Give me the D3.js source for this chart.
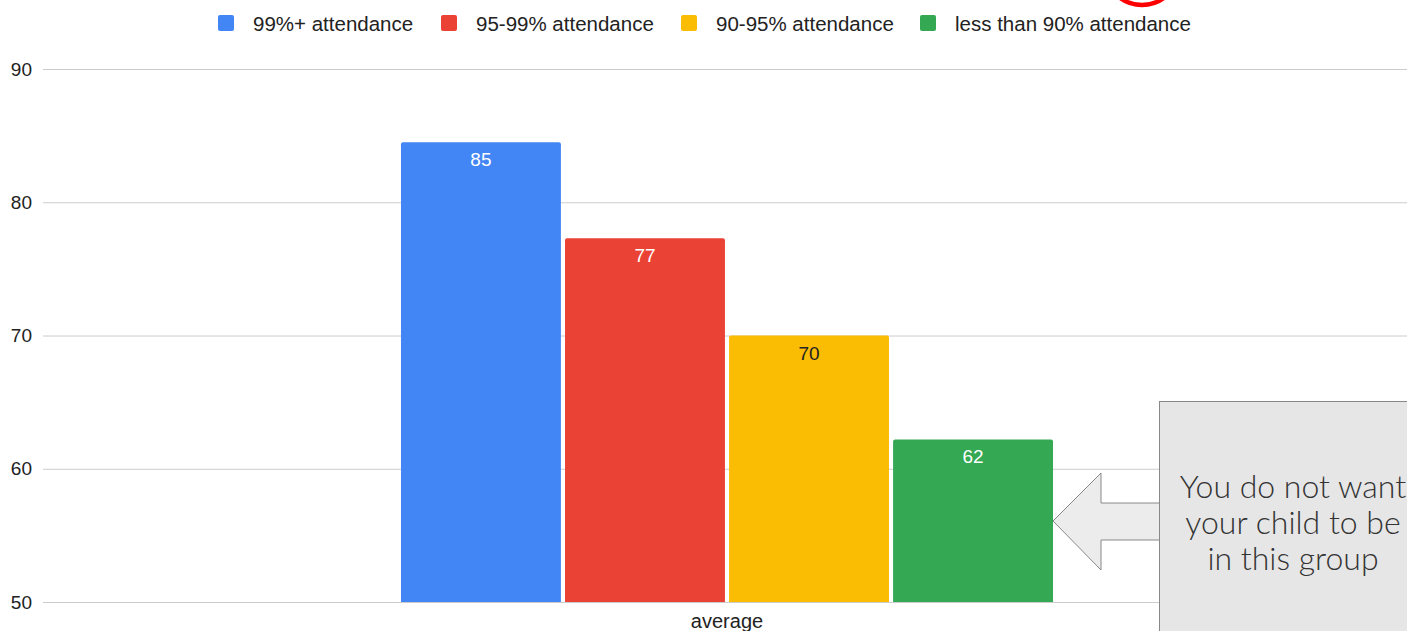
<!DOCTYPE html>
<html>
<head>
<meta charset="utf-8">
<script src="https://cdn.jsdelivr.net/npm/d3@7"></script>
<style>
  body { margin: 0; background: #fff; overflow: hidden; }
  svg { display: block; font-family: "Liberation Sans", Arial, sans-serif; }
</style>
</head>
<body>
<svg id="chart" width="1407" height="631"></svg>
<script>
// data
const categories = ["average"];
const seriesNames = ["99%+ attendance", "95-99% attendance", "90-95% attendance", "less than 90% attendance"];
const seriesValues = [84.5, 77.3, 70.0, 62.2];
const seriesColors = ["#4285f4", "#ea4335", "#fbbc04", "#34a853"];
const labelColors = ["#fff", "#fff", "#222", "#fff"];
const yTicks = [50, 60, 70, 80, 90];
const calloutLines = ["You do not want", "your child to be", "in this group"];

const svg = d3.select('#chart');
const margin = {left: 43, right: -4, top: 69, bottom: 29};
const width = 1407, height = 631;

let yScale = d3.scaleLinear()
  .domain([50, 90])
  .range([height - margin.bottom, margin.top]);

let xScale = d3.scaleBand()
  .domain(categories)
  .range([margin.left, width - margin.right])
  .paddingOuter(0.549);

let inner = d3.scaleBand()
  .domain(seriesNames)
  .range([0, xScale.bandwidth()])
  .paddingInner(0.025);

// gridlines + y labels
let yAxis = d3.axisLeft(yScale)
  .tickValues(yTicks)
  .tickSize(-(width - margin.left))
  .tickPadding(11);

svg.append('g')
  .attr('transform', `translate(${margin.left},0)`)
  .call(yAxis)
  .call(g => g.select('.domain').remove())
  .call(g => g.selectAll('line').attr('stroke', '#ccc'))
  .call(g => g.selectAll('text')
    .attr('fill', '#222')
    .style('font-size', '19px')
    .style('font-family', '"Liberation Sans", Arial, sans-serif'));

// bars
let bars = svg.append('g');
let y0 = yScale(50);
seriesNames.forEach(function(name, i) {
  let x = xScale(categories[0]) + inner(name);
  let y = yScale(seriesValues[i]);
  let w = inner.bandwidth();
  let r = 2;
  bars.append('path')
    .attr('d', `M${x},${y0} V${y + r} Q${x},${y} ${x + r},${y} H${x + w - r} Q${x + w},${y} ${x + w},${y + r} V${y0} Z`)
    .attr('fill', seriesColors[i]);
  bars.append('text')
    .attr('x', x + w / 2)
    .attr('y', y + 24)
    .attr('text-anchor', 'middle')
    .attr('fill', labelColors[i])
    .style('font-size', '19px')
    .text(Math.round(seriesValues[i]));
});

// x label
let xAxis = d3.axisBottom(xScale).tickSize(0).tickPadding(12);
svg.append('g')
  .attr('transform', `translate(0,${y0})`)
  .call(xAxis)
  .call(g => g.select('.domain').remove())
  .call(g => g.selectAll('text')
    .attr('fill', '#222')
    .style('font-size', '20px')
    .style('font-family', '"Liberation Sans", Arial, sans-serif'));

// legend
const legendX = [218, 441, 681, 920];
let legend = svg.append('g');
seriesNames.forEach(function(name, i) {
  legend.append('rect')
    .attr('x', legendX[i]).attr('y', 15)
    .attr('width', 16).attr('height', 16)
    .attr('rx', 2)
    .attr('fill', seriesColors[i]);
  legend.append('text')
    .attr('x', legendX[i] + 35).attr('y', 31)
    .attr('fill', '#222')
    .style('font-size', '20.5px')
    .text(name);
});

// red circle peeking in at the top
svg.append('circle')
  .attr('cx', 1142).attr('cy', -32).attr('r', 37)
  .attr('fill', 'none')
  .attr('stroke', '#f00')
  .attr('stroke-width', 4.5);

// callout arrow and box
let tipX = xScale(categories[0]) + inner(seriesNames[3]) + inner.bandwidth();
let midY = 521;
svg.append('path')
  .attr('d', `M${tipX},${midY} L1101,${midY - 48} V${midY - 18} H1160 V${midY + 19} H1101 V${midY + 49} Z`)
  .attr('fill', '#ececec')
  .attr('stroke', '#888')
  .attr('stroke-width', 1);

svg.append('rect')
  .attr('x', 1159.5).attr('y', 401.5)
  .attr('width', 300).attr('height', 300)
  .attr('fill', '#e6e6e6')
  .attr('stroke', '#888')
  .attr('stroke-width', 1);

svg.append('g').selectAll('text')
  .data(calloutLines).enter().append('text')
  .attr('x', 1293)
  .attr('y', (d, i) => 498 + i * 36)
  .attr('text-anchor', 'middle')
  .attr('fill', '#333')
  .style('font-family', 'Lato, "Noto Sans", sans-serif')
  .style('font-weight', 300)
  .style('font-size', '32px')
  .text(d => d);
</script>
</body>
</html>
